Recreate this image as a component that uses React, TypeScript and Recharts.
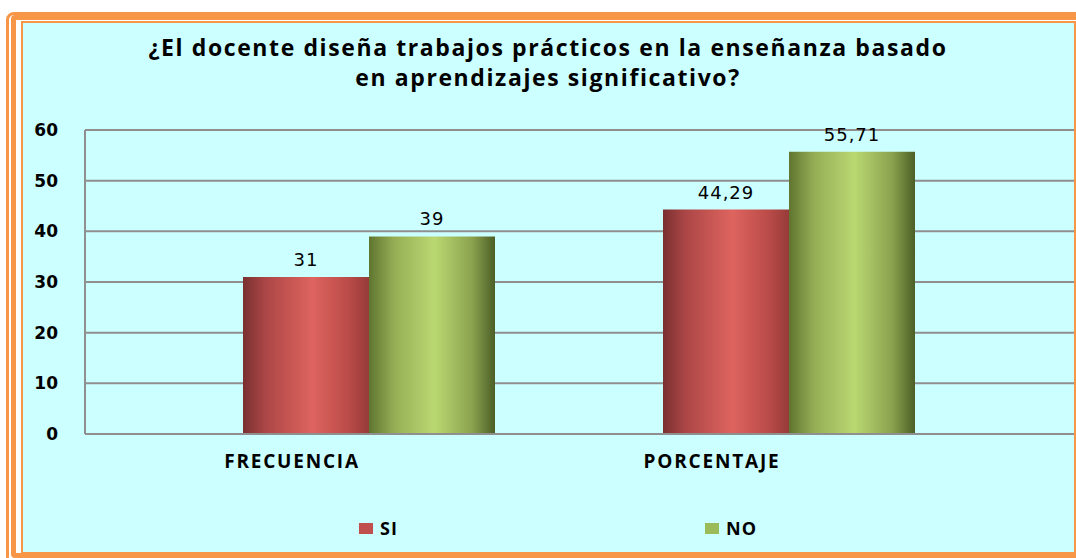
import { BarChart, Bar, XAxis, YAxis, CartesianGrid, Legend, LabelList } from 'recharts';

const categories = ['FRECUENCIA', 'PORCENTAJE'];
const siValues = [31, 44.29];
const noValues = [39, 55.71];
const yTicks = [0, 10, 20, 30, 40, 50, 60];
const titleLines = [
  '¿El docente diseña trabajos prácticos en la enseñanza basado',
  'en aprendizajes significativo?',
];

const data = categories.map((name, i) => ({ name, SI: siValues[i], NO: noValues[i] }));

const ORANGE = '#F79646';
const PANEL = '#CCFFFF';
const LABEL_FONT = "'Open Sans', sans-serif";
const NUM_FONT = "'DejaVu Sans', Verdana, sans-serif";

const fmt = (v: any) => String(v).replace('.', ',');

const CategoryTick = (props: any) => {
  const { x, y, payload } = props;
  return (
    <text
      x={x - 77}
      y={y + 26}
      textAnchor="middle"
      fontFamily={LABEL_FONT}
      fontWeight={700}
      fontSize={19}
      letterSpacing={1.8}
      fill="#000"
    >
      {payload.value}
    </text>
  );
};

const legendLeft: Record<string, number> = { SI: 359, NO: 705 };
const legendColor: Record<string, string> = { SI: '#C0504D', NO: '#9BBB59' };

const LegendContent = (props: any) => {
  const { payload } = props;
  return (
    <div style={{ position: 'relative', height: 30, width: 1076 }}>
      {(payload || []).map((p: any) => (
        <div
          key={p.value}
          style={{
            position: 'absolute',
            left: legendLeft[p.value],
            top: 5,
            display: 'flex',
            alignItems: 'center',
            fontFamily: LABEL_FONT,
            fontWeight: 700,
            fontSize: 18,
            letterSpacing: 1,
            color: '#000',
          }}
        >
          <span style={{ width: 14, height: 11, background: legendColor[p.value], marginRight: 7 }} />
          {p.value}
        </div>
      ))}
    </div>
  );
};

export default function App() {
  return (
    <div style={{ position: 'absolute', left: 0, top: 0, width: 1076, height: 558, overflow: 'hidden', background: '#fff' }}>
      {/* frame */}
      <div style={{ position: 'absolute', left: 6, top: 12, width: 1080, height: 560, border: `3px solid ${ORANGE}`, borderRadius: 8, boxSizing: 'border-box' }} />
      <div style={{ position: 'absolute', left: 11, top: 15, width: 1080, height: 543, border: `5px solid ${ORANGE}`, borderRadius: 4, boxSizing: 'border-box' }} />
      <div style={{ position: 'absolute', left: 21, top: 21, width: 1055, height: 533, border: `2px solid ${ORANGE}`, background: PANEL, boxSizing: 'border-box' }} />

      <div
        style={{
          position: 'absolute',
          left: 22,
          width: 1052,
          top: 32,
          textAlign: 'center',
          fontFamily: LABEL_FONT,
          fontWeight: 700,
          fontSize: 23,
          letterSpacing: 1.6,
          lineHeight: '30px',
          color: '#000',
        }}
      >
        {titleLines.map((t) => (
          <div key={t}>{t}</div>
        ))}
      </div>

      <div style={{ position: 'absolute', left: 0, top: 0 }}>
        <BarChart
          width={1076}
          height={558}
          data={data}
          margin={{ top: 130, right: 2, left: 25, bottom: 17 }}
          barCategoryGap="20%"
          barGap={0}
        >
          <defs>
            <linearGradient id="gradSi" x1="0" y1="0" x2="1" y2="0">
              <stop offset="0%" stopColor="#7a3030" />
              <stop offset="18%" stopColor="#ac4646" />
              <stop offset="55%" stopColor="#de645f" />
              <stop offset="85%" stopColor="#b84a47" />
              <stop offset="100%" stopColor="#963b39" />
            </linearGradient>
            <linearGradient id="gradNo" x1="0" y1="0" x2="1" y2="0">
              <stop offset="0%" stopColor="#5f7530" />
              <stop offset="20%" stopColor="#95ae55" />
              <stop offset="52%" stopColor="#bad872" />
              <stop offset="82%" stopColor="#8aa24e" />
              <stop offset="100%" stopColor="#4c5e26" />
            </linearGradient>
          </defs>
          <CartesianGrid vertical={false} stroke="#8f8f8f" strokeWidth={2} />
          <XAxis
            dataKey="name"
            height={77}
            padding={{ left: 74, right: 75 }}
            axisLine={{ stroke: '#8f8f8f', strokeWidth: 2 }}
            tickLine={false}
            tick={<CategoryTick />}
            interval={0}
          />
          <YAxis
            width={60}
            domain={[0, 60]}
            ticks={yTicks}
            interval={0}
            axisLine={{ stroke: '#8f8f8f', strokeWidth: 2 }}
            tickLine={false}
            tickSize={0}
            tickMargin={27}
            tick={{ fontFamily: NUM_FONT, fontWeight: 700, fontSize: 17, fill: '#000' }}
          />
          <Legend verticalAlign="bottom" height={30} content={<LegendContent />} wrapperStyle={{ left: 0, width: 1076 }} />
          <Bar dataKey="SI" fill="url(#gradSi)" isAnimationActive={false} legendType="square">
            <LabelList
              dataKey="SI"
              position="top"
              offset={11}
              formatter={fmt}
              style={{ fontFamily: NUM_FONT, fontSize: 18, fill: '#000', letterSpacing: 1 }}
            />
          </Bar>
          <Bar dataKey="NO" fill="url(#gradNo)" isAnimationActive={false} legendType="square">
            <LabelList
              dataKey="NO"
              position="top"
              offset={11}
              formatter={fmt}
              style={{ fontFamily: NUM_FONT, fontSize: 18, fill: '#000', letterSpacing: 1 }}
            />
          </Bar>
        </BarChart>
      </div>
    </div>
  );
}
